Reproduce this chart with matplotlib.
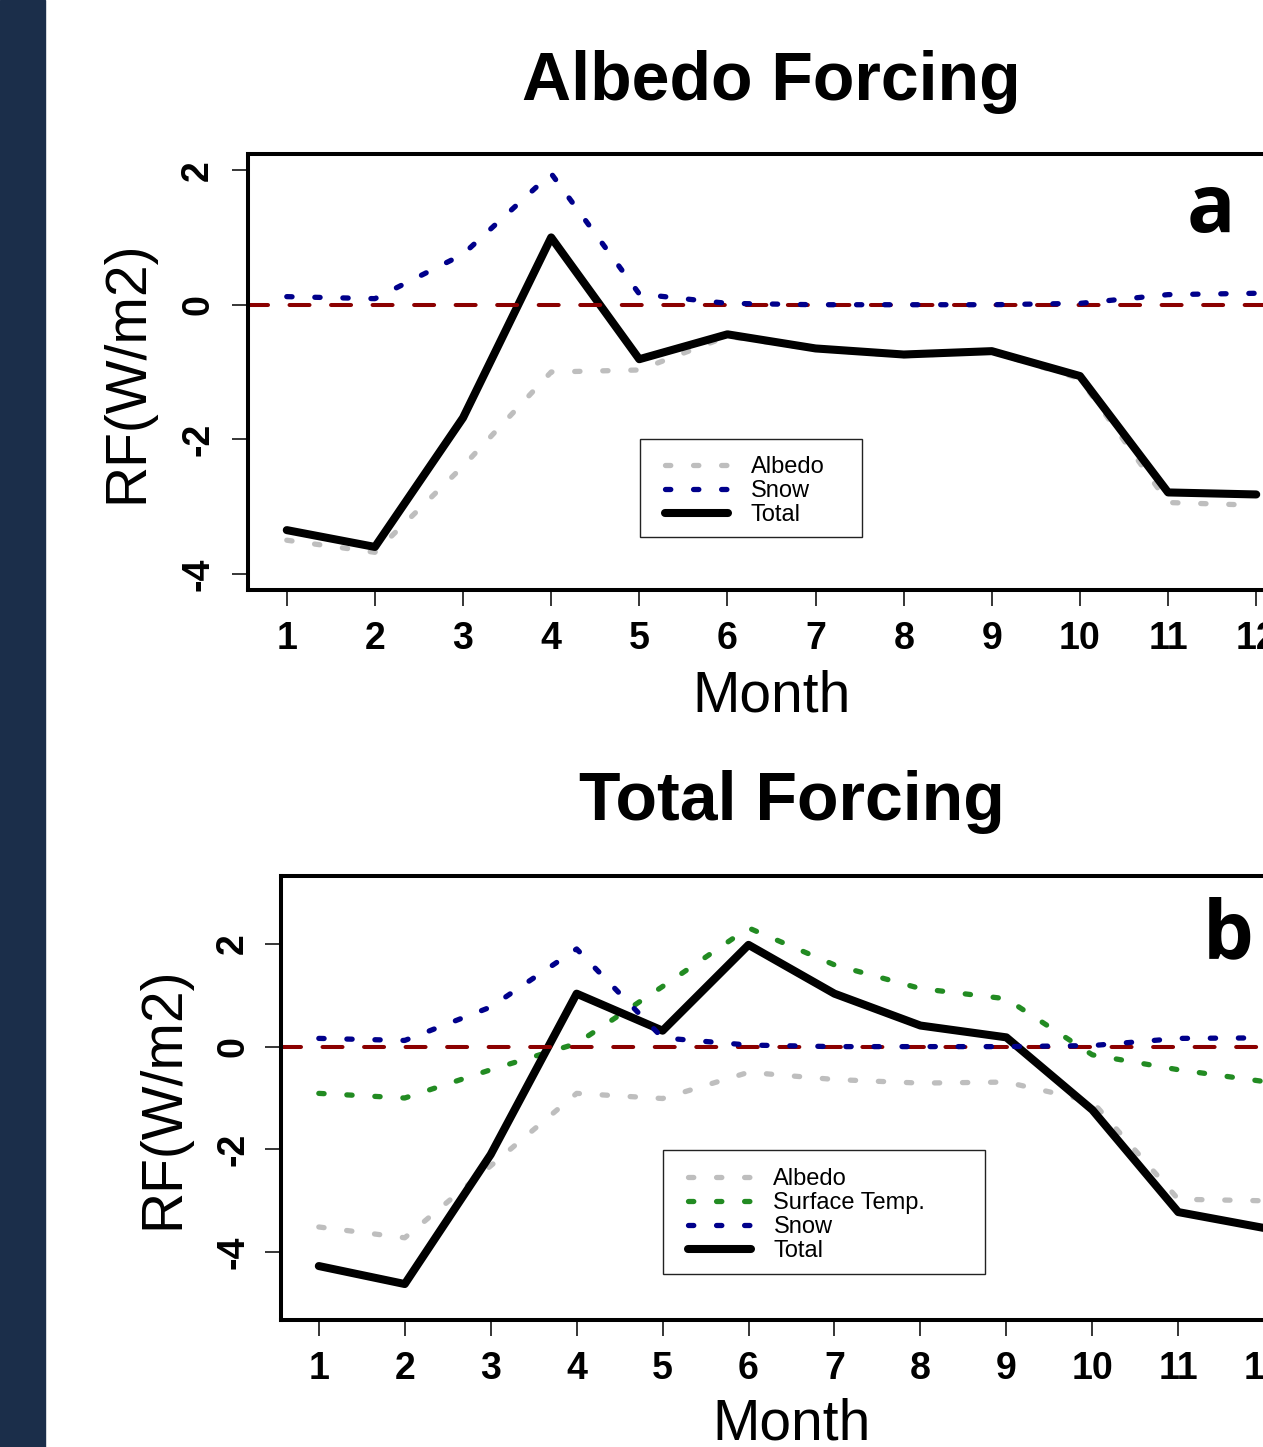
import matplotlib
matplotlib.use("Agg")
import matplotlib.pyplot as plt
from matplotlib.patches import Rectangle

plt.rcParams['font.family'] = ['Liberation Sans', 'DejaVu Sans']
plt.rcParams['lines.scale_dashes'] = False

# Data
months = [1, 2, 3, 4, 5, 6, 7, 8, 9, 10, 11, 12]
xtick_labels = ["1", "2", "3", "4", "5", "6", "7", "8", "9", "10", "11", "12"]

# panel a: albedo forcing
albedo_a = [-3.50, -3.68, -2.40, -1.00, -0.97, -0.47, -0.66, -0.76, -0.70, -1.10, -2.94, -2.98]
snow_a = [0.12, 0.09, 0.75, 1.95, 0.16, 0.02, 0.0, 0.0, 0.0, 0.02, 0.15, 0.17]
total_a = [-3.35, -3.60, -1.68, 1.00, -0.81, -0.44, -0.65, -0.74, -0.69, -1.06, -2.79, -2.82]

# panel b: total forcing
albedo_b = [-3.51, -3.72, -2.32, -0.91, -1.01, -0.50, -0.64, -0.71, -0.69, -1.07, -2.97, -3.00]
temp_b = [-0.91, -1.00, -0.45, 0.06, 1.17, 2.31, 1.59, 1.13, 0.93, -0.16, -0.45, -0.68]
snow_b = [0.16, 0.12, 0.77, 1.90, 0.17, 0.03, 0.0, 0.0, 0.0, 0.02, 0.16, 0.17]
total_b = [-4.27, -4.62, -2.10, 1.03, 0.31, 1.98, 1.03, 0.41, 0.18, -1.23, -3.22, -3.53]

ytick_vals = [-4, -2, 0, 2]
ytick_labels = ["-4", "-2", "0", "2"]

GRAY = '#bebebe'
BLUE = '#00008b'
GREEN = '#228b22'
RED = '#8b0000'
dot_style = dict(lw=3.8, dashes=(3.8, 16.4), dash_capstyle='round')

W, H = 1263, 1447
fig = plt.figure(figsize=(W / 100, H / 100), dpi=100)
fig.patch.set_facecolor('white')
fig.patches.append(Rectangle((0, 0), 45 / W, 1, transform=fig.transFigure,
                             color='#1b2e4a', zorder=-1))


def px_axes(left, right, top, bottom):
    return fig.add_axes([left / W, 1 - bottom / H, (right - left) / W, (bottom - top) / H])


def style_axes(ax, ylim, ypad):
    ax.set_xlim(0.56, 12.44)
    ax.set_ylim(*ylim)
    for s in ax.spines.values():
        s.set_linewidth(2.9)
    ax.set_xticks(months, xtick_labels, fontsize=27, fontweight='bold')
    ax.set_yticks(ytick_vals, ytick_labels, fontsize=27, fontweight='bold',
                  rotation=90, va='center')
    ax.tick_params(axis='both', length=11.5, width=1.1, direction='out')
    ax.tick_params(axis='x', pad=10.8)
    ax.tick_params(axis='y', pad=ypad)


def add_legend(ax, handles, labels, anchor, frame):
    leg = ax.legend(handles, labels, loc='center left', bbox_to_anchor=anchor,
                    borderaxespad=0, borderpad=0, frameon=False, fontsize=17,
                    handlelength=2.67, handletextpad=0.95, labelspacing=0.09)
    x0, y0, x1, y1 = frame
    ax.add_patch(Rectangle((x0, y0), x1 - x0, y1 - y0, transform=ax.transAxes,
                           fill=False, lw=1.0, ec='#222222'))
    return leg


# ---------------- panel a ----------------
ax1 = px_axes(248, 1295, 154, 590)
style_axes(ax1, (-4.24, 2.24), 11.5)
la, = ax1.plot(months, albedo_a, color=GRAY, **dot_style)
lt, = ax1.plot(months, total_a, color='black', lw=5.8,
               solid_capstyle='round', solid_joinstyle='round')
ax1.axhline(0, color=RED, lw=2.9, dashes=(14.4, 15.5), dash_capstyle='round')
ls, = ax1.plot(months, snow_a, color=BLUE, **dot_style)
add_legend(ax1, [la, ls, lt], ["Albedo", "Snow", "Total"],
           (0.3983, 0.2272), (0.3744, 0.1216, 0.5864, 0.3463))
ax1.text(0.5, 1.124, 'Albedo Forcing', transform=ax1.transAxes, ha='center',
         va='baseline', fontsize=49, fontweight='bold')
ax1.text(0.5, -0.2798, 'Month', transform=ax1.transAxes, ha='center',
         va='baseline', fontsize=41)
ax1.text(-0.1012, 0.5, 'RF(W/m2)', transform=ax1.transAxes, ha='center',
         va='baseline', rotation=90, rotation_mode='anchor', fontsize=41)
ax1.text(0.9198, 0.8211, 'a', transform=ax1.transAxes, ha='center',
         va='baseline', fontsize=58, fontweight='bold', family='Open Sans')

# ---------------- panel b ----------------
ax2 = px_axes(281, 1302, 876, 1320)
style_axes(ax2, (-5.32, 3.32), 10)
lab, = ax2.plot(months, albedo_b, color=GRAY, **dot_style)
ltm, = ax2.plot(months, temp_b, color=GREEN, **dot_style)
ltb, = ax2.plot(months, total_b, color='black', lw=5.8,
                solid_capstyle='round', solid_joinstyle='round')
ax2.axhline(0, color=RED, lw=2.9, dashes=(14.4, 15.5), dash_capstyle='round')
lsb, = ax2.plot(months, snow_b, color=BLUE, **dot_style)
add_legend(ax2, [lab, ltm, lsb, ltb], ["Albedo", "Surface Temp.", "Snow", "Total"],
           (0.3986, 0.2365), (0.3741, 0.1036, 0.6895, 0.3829))
ax2.text(0.5, 1.126, 'Total Forcing', transform=ax2.transAxes, ha='center',
         va='baseline', fontsize=49, fontweight='bold')
ax2.text(0.5, -0.270, 'Month', transform=ax2.transAxes, ha='center',
         va='baseline', fontsize=41)
ax2.text(-0.1009, 0.5, 'RF(W/m2)', transform=ax2.transAxes, ha='center',
         va='baseline', rotation=90, rotation_mode='anchor', fontsize=41)
ax2.text(0.9275, 0.8176, 'b', transform=ax2.transAxes, ha='center',
         va='baseline', fontsize=58, fontweight='bold', family='Open Sans')

fig.savefig('out.png', dpi=100, facecolor=fig.get_facecolor())
